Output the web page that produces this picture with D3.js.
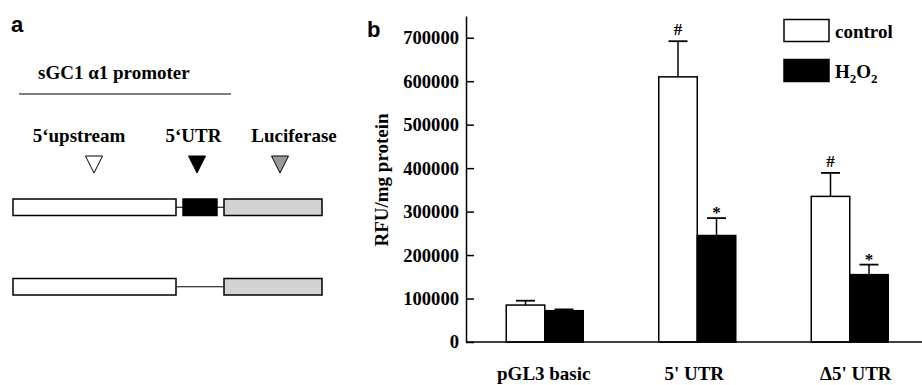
<!DOCTYPE html>
<html>
<head>
<meta charset="utf-8">
<script src="https://cdn.jsdelivr.net/npm/d3@7"></script>
<style>
  body { margin: 0; background: #fff; }
  svg text { font-family: "Liberation Serif", "Times New Roman", serif; font-weight: bold; }
</style>
</head>
<body>
<svg id="chart" width="922" height="385"></svg>
<script>
// panel b data
const categories = ["pGL3 basic", "5' UTR", "\u03945' UTR"];
const series = ["control", "H2O2"];
const controlValues = [85000, 610000, 335000];
const controlErrors = [10000, 82000, 54000];
const h2o2Values = [72000, 245000, 155000];
const h2o2Errors = [3000, 40000, 23000];
const controlMarks = ["", "#", "#"];
const h2o2Marks = ["", "*", "*"];
const yTicks = [0, 100000, 200000, 300000, 400000, 500000, 600000, 700000];

// panel a construct segments (relative units along the construct)
const segNames = ["5\u2018upstream", "5\u2018UTR", "Luciferase"];
const construct1 = [[0, 163, "#fff"], [170, 204, "#000"], [211, 309, "#d3d3d3"]];
const construct2 = [[0, 163, "#fff"], [211, 309, "#d3d3d3"]];
const triangleColors = ["#fff", "#000", "#999"];
const triangleAt = [81, 184, 267];

const svg = d3.select("#chart");

// ---------- panel a ----------
const a = svg.append("g");
const u = d3.scaleLinear().domain([0, 309]).range([13, 322]);

a.append("text").attr("x", 11).attr("y", 32)
  .style("font-family", "Liberation Sans, Arial, sans-serif")
  .style("font-size", "22px").text("a");

a.append("text").attr("x", 38).attr("y", 79).style("font-size", "19px")
  .text("sGC1 \u03b11 promoter");
a.append("line").attr("x1", 19).attr("x2", 231).attr("y1", 94).attr("y2", 94)
  .attr("stroke", "#000").attr("stroke-width", 1.2);

a.selectAll(".seglabel").data(segNames).enter().append("text")
  .attr("class", "seglabel")
  .attr("x", (d, i) => [79, 193.5, 294][i])
  .attr("y", 142)
  .attr("text-anchor", "middle")
  .style("font-size", "19px")
  .text(d => d);

a.selectAll(".tri").data(triangleAt).enter().append("path")
  .attr("class", "tri")
  .attr("d", (d) => {
    const cx = u(d);
    return "M" + (cx - 8.5) + ",156L" + (cx + 8.5) + ",156L" + cx + ",173Z";
  })
  .attr("fill", (d, i) => triangleColors[i])
  .attr("stroke", "#000").attr("stroke-width", 1);

function drawConstruct(segs, yTop) {
  const h = 16.5;
  const mid = yTop + h / 2;
  a.append("line").attr("x1", u(segs[0][1])).attr("x2", u(segs[segs.length - 1][0]))
    .attr("y1", mid).attr("y2", mid).attr("stroke", "#000").attr("stroke-width", 1.2);
  a.selectAll(null).data(segs).enter().append("rect")
    .attr("x", d => u(d[0]))
    .attr("width", d => u(d[1]) - u(d[0]))
    .attr("y", yTop).attr("height", h)
    .attr("fill", d => d[2])
    .attr("stroke", "#000").attr("stroke-width", 1.5);
}
drawConstruct(construct1, 199);
drawConstruct(construct2, 278.5);

// ---------- panel b ----------
const b = svg.append("g");
b.append("text").attr("x", 367).attr("y", 37)
  .style("font-family", "Liberation Sans, Arial, sans-serif")
  .style("font-size", "22px").text("b");

const y = d3.scaleLinear().domain([0, 750000]).range([342, 16]);
const x0 = d3.scaleBand().domain(categories).range([468.5, 926]).paddingInner(0.495).paddingOuter(0.2475);
const x1 = d3.scaleBand().domain(series).range([0, x0.bandwidth()]);

const rows = categories.map((c, i) => ({
  cat: c,
  bars: [
    { s: "control", v: controlValues[i], e: controlErrors[i], m: controlMarks[i], fill: "#fff" },
    { s: "H2O2", v: h2o2Values[i], e: h2o2Errors[i], m: h2o2Marks[i], fill: "#000" }
  ]
}));

const groups = b.selectAll(".grp").data(rows).enter().append("g")
  .attr("class", "grp")
  .attr("transform", d => "translate(" + x0(d.cat) + ",0)");

const bar = groups.selectAll(".bar").data(d => d.bars).enter().append("g");

// error bars (upper only)
bar.append("line")
  .attr("x1", d => x1(d.s) + x1.bandwidth() / 2)
  .attr("x2", d => x1(d.s) + x1.bandwidth() / 2)
  .attr("y1", d => y(d.v))
  .attr("y2", d => y(d.v + d.e))
  .attr("stroke", "#000").attr("stroke-width", 1.5);
bar.append("line")
  .attr("x1", d => x1(d.s) + x1.bandwidth() / 2 - 9.5)
  .attr("x2", d => x1(d.s) + x1.bandwidth() / 2 + 9.5)
  .attr("y1", d => y(d.v + d.e))
  .attr("y2", d => y(d.v + d.e))
  .attr("stroke", "#000").attr("stroke-width", 1.8);

bar.append("text")
  .attr("x", d => x1(d.s) + x1.bandwidth() / 2)
  .attr("y", d => y(d.v + d.e) - (d.m === "*" ? 0 : 6))
  .attr("text-anchor", "middle")
  .style("font-size", "17px")
  .text(d => d.m);

bar.append("rect")
  .attr("x", d => x1(d.s))
  .attr("width", x1.bandwidth())
  .attr("y", d => y(d.v))
  .attr("height", d => y(0) - y(d.v))
  .attr("fill", d => d.fill)
  .attr("stroke", "#000").attr("stroke-width", 1.5);

// y axis
const yAxis = b.append("g")
  .attr("transform", "translate(466,0)")
  .call(d3.axisLeft(y).tickValues(yTicks).tickFormat(d3.format("d"))
    .tickSizeInner(-8).tickSizeOuter(0).tickPadding(7));
yAxis.selectAll("path, line").attr("stroke", "#000").attr("stroke-width", 1.5);
yAxis.selectAll("text").style("font-size", "18.6px")
  .style("font-family", "Liberation Serif, serif").attr("fill", "#000");

// x axis
const xAxis = b.append("g")
  .attr("transform", "translate(0,342)")
  .call(d3.axisBottom(x0).tickSize(0).tickPadding(25));
xAxis.select(".domain").attr("d", "M466,0H922").attr("stroke", "#000").attr("stroke-width", 1.5);
xAxis.selectAll("text").style("font-size", "19px")
  .style("font-family", "Liberation Serif, serif").attr("fill", "#000")
  .attr("dx", (d, i) => [-1, -3, 6][i]);

b.append("text")
  .attr("transform", "translate(388,180) rotate(-90)")
  .attr("text-anchor", "middle")
  .style("font-size", "19px")
  .text("RFU/mg protein");

// legend
const legend = b.append("g").attr("transform", "translate(784,19.5)");
legend.append("rect").attr("width", 45).attr("height", 22)
  .attr("fill", "#fff").attr("stroke", "#000").attr("stroke-width", 1.5);
legend.append("text").attr("x", 51).attr("y", 18).style("font-size", "19px").text(series[0]);
legend.append("rect").attr("y", 40).attr("width", 45).attr("height", 22)
  .attr("fill", "#000").attr("stroke", "#000").attr("stroke-width", 1.5);
const h2 = legend.append("text").attr("x", 51).attr("y", 58).style("font-size", "19px");
h2.append("tspan").text("H");
h2.append("tspan").attr("dy", 5).style("font-size", "13px").text("2");
h2.append("tspan").attr("dy", -5).text("O");
h2.append("tspan").attr("dy", 5).style("font-size", "13px").text("2");
</script>
</body>
</html>
